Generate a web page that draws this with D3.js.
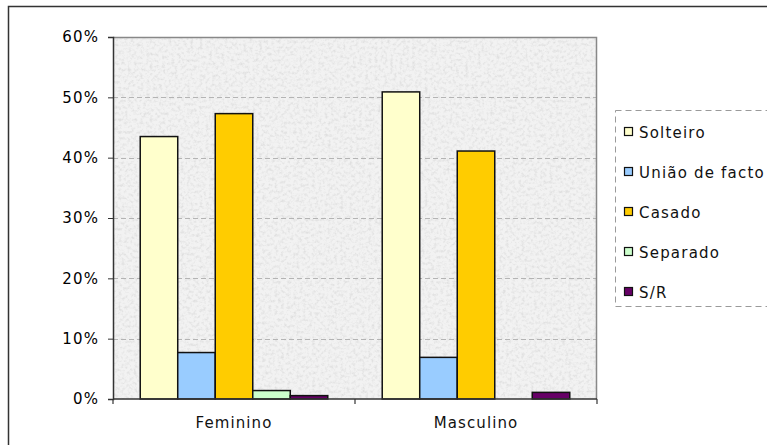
<!DOCTYPE html>
<html>
<head>
<meta charset="utf-8">
<script src="https://cdn.jsdelivr.net/npm/d3@7"></script>
<style>
  html, body { margin: 0; padding: 0; background: #fff; }
  svg { display: block; }
  text { font-family: "DejaVu Sans", Verdana, sans-serif; fill: #000; }
</style>
</head>
<body>
<svg id="chart" width="767" height="445"></svg>
<script>
// Estado civil por sexo (proporção)
const categories = ["Feminino", "Masculino"];
const seriesNames = ["Solteiro", "União de facto", "Casado", "Separado", "S/R"];
const seriesColors = ["#FFFFCC", "#99CCFF", "#FFCC00", "#CCFFCC", "#660066"];
const feminino = [0.435, 0.077, 0.473, 0.014, 0.0056];
const masculino = [0.509, 0.069, 0.411, 0.0, 0.011];
const yTicks = [0, 0.1, 0.2, 0.3, 0.4, 0.5, 0.6];

const values = [feminino, masculino];

const svg = d3.select("#chart");
const plot = { left: 113, right: 597, top: 37, bottom: 399 };

// granite-like texture for the plot area
const defs = svg.append("defs");
const flt = defs.append("filter").attr("id", "graniteBg")
  .attr("x", 0).attr("y", 0).attr("width", "100%").attr("height", "100%");
flt.append("feTurbulence").attr("type", "fractalNoise")
  .attr("baseFrequency", 0.32).attr("numOctaves", 3).attr("seed", 11).attr("result", "n");
flt.append("feColorMatrix").attr("in", "n").attr("type", "matrix")
  .attr("values", "0 0 0 0 0.45  0 0 0 0 0.45  0 0 0 0 0.45  -2.6 0 0 0 1.45")
  .attr("result", "a");
flt.append("feComponentTransfer").attr("in", "a").attr("result", "b")
  .append("feFuncA").attr("type", "linear").attr("slope", 0.32).attr("intercept", 0);
flt.append("feFlood").attr("flood-color", "#f2f2f2").attr("result", "bg");
flt.append("feComposite").attr("in", "b").attr("in2", "bg").attr("operator", "over");

// outer chart frame (runs past the right and bottom edges)
svg.append("rect")
  .attr("x", 8.5).attr("y", 6.5).attr("width", 820).attr("height", 500)
  .attr("fill", "none").attr("stroke", "#333").attr("stroke-width", 1.5);

// plot background
svg.append("rect")
  .attr("x", plot.left).attr("y", plot.top)
  .attr("width", plot.right - plot.left).attr("height", plot.bottom - plot.top)
  .attr("fill", "#eeeeee")
  .attr("filter", "url(#graniteBg)");

const x0 = d3.scaleBand().domain(categories)
  .range([plot.left, plot.right])
  .paddingInner(0.225).paddingOuter(0.1125);
const x1 = d3.scaleBand().domain(seriesNames).range([0, x0.bandwidth()]);
const y = d3.scaleLinear().domain([0, 0.6]).range([plot.bottom, plot.top]);

// horizontal gridlines
svg.append("g").selectAll("line")
  .data(yTicks.filter(t => t > 0 && t < 0.6))
  .join("line")
  .attr("x1", plot.left).attr("x2", plot.right)
  .attr("y1", d => Math.round(y(d)) + 0.5).attr("y2", d => Math.round(y(d)) + 0.5)
  .attr("stroke", "#b4b4b4").attr("stroke-dasharray", "5,3");

// plot frame top / right
svg.append("path")
  .attr("d", `M${plot.left},${plot.top + 0.5}H${plot.right - 0.5}V${plot.bottom}`)
  .attr("fill", "none").attr("stroke", "#888").attr("stroke-width", 1.5);

// bars
const groups = svg.append("g").selectAll("g")
  .data(categories)
  .join("g")
  .attr("transform", d => `translate(${x0(d)},0)`);

groups.selectAll("rect")
  .data((d, i) => seriesNames.map((s, j) => ({ s, v: values[i][j], c: seriesColors[j] })).filter(e => e.v > 0))
  .join("rect")
  .attr("x", d => x1(d.s))
  .attr("width", x1.bandwidth())
  .attr("y", d => y(d.v))
  .attr("height", d => y(0) - y(d.v))
  .attr("fill", d => d.c)
  .attr("stroke", "#111")
  .attr("stroke-width", 1.5);

// y axis
const yAxis = d3.axisLeft(y).tickValues(yTicks).tickFormat(d3.format(".0%"))
  .tickSize(5).tickPadding(9);
const gy = svg.append("g").attr("transform", `translate(${plot.left},0)`).call(yAxis);
gy.select(".domain").attr("stroke", "#333").attr("stroke-width", 1.5);
gy.selectAll(".tick line").attr("stroke", "#333");
gy.selectAll(".tick text")
  .style("font-family", "'DejaVu Sans', Verdana, sans-serif")
  .style("font-size", "15px").style("letter-spacing", "1.1px").attr("fill", "#111");

// x axis: line, boundary ticks and category labels
const gx = svg.append("g");
gx.append("line")
  .attr("x1", plot.left).attr("x2", plot.right)
  .attr("y1", plot.bottom).attr("y2", plot.bottom)
  .attr("stroke", "#333").attr("stroke-width", 1.5);
const bounds = [plot.left, ...categories.slice(1).map(c => x0(c) - x0.step() * x0.paddingInner() / 2), plot.right];
gx.selectAll("line.tk").data(bounds).join("line").attr("class", "tk")
  .attr("x1", d => d).attr("x2", d => d)
  .attr("y1", plot.bottom).attr("y2", plot.bottom + 5)
  .attr("stroke", "#333").attr("stroke-width", 1.2);
gx.selectAll("text").data(categories).join("text")
  .attr("x", d => x0(d) + x0.bandwidth() / 2)
  .attr("y", 428)
  .attr("text-anchor", "middle")
  .style("font-size", "15px").style("letter-spacing", "1.1px")
  .style("fill", "#111")
  .text(d => d);

// legend
const legend = svg.append("g");
legend.append("rect")
  .attr("x", 615.5).attr("y", 110.5).attr("width", 200).attr("height", 196)
  .attr("fill", "#fff").attr("stroke", "#9a9a9a").attr("stroke-dasharray", "6,4");
const items = legend.selectAll("g.item").data(seriesNames).join("g")
  .attr("class", "item")
  .attr("transform", (d, i) => `translate(624, ${132 + i * 40})`);
items.append("rect")
  .attr("x", 0.5).attr("y", -4.5).attr("width", 8).attr("height", 8)
  .attr("fill", (d, i) => seriesColors[i]).attr("stroke", "#111").attr("stroke-width", 1.2);
items.append("text")
  .attr("x", 15).attr("y", 5.5)
  .style("font-size", "15px").style("letter-spacing", "1.2px")
  .style("fill", "#111")
  .text(d => d);
</script>
</body>
</html>
